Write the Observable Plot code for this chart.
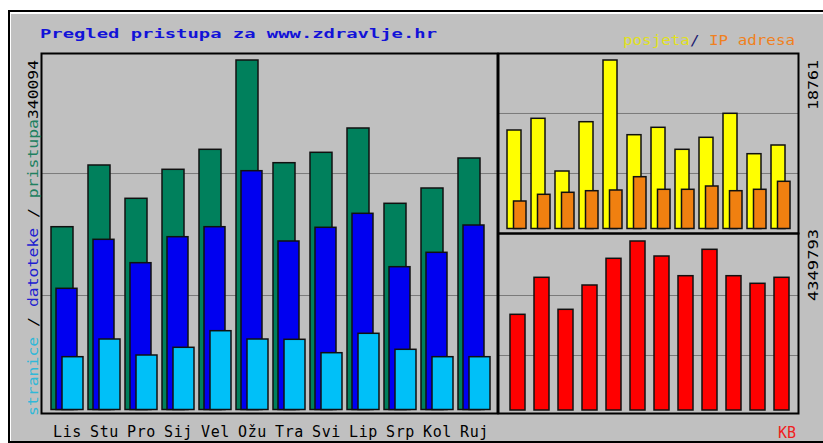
<!DOCTYPE html>
<html><head><meta charset="utf-8">
<script src="https://cdn.jsdelivr.net/npm/d3@7"></script>
<script src="https://cdn.jsdelivr.net/npm/@observablehq/plot@0.6"></script>
<style>
html,body{margin:0;padding:0;background:#fff;}
#wrap{position:relative;width:823px;height:443px;overflow:hidden;background:#fff;}
#box{position:absolute;left:8px;top:10px;width:830px;height:429px;background:#c0c0c0;border-left:2px solid #000;border-top:2px solid #000;border-bottom:2px solid #000;box-shadow:inset 1px 2px 0 #fff;}
.panel{position:absolute;}
.panel svg{display:block;}
#overlay{position:absolute;left:0;top:0;}
</style></head><body><div id="wrap"><div id="box"></div></div>
<script>
// ---- data ----
const months   = ["Lis","Stu","Pro","Sij","Vel","Ožu","Tra","Svi","Lip","Srp","Kol","Ruj"];
const pristupa = [177880,237920,205520,233740,253200,340094,240160,250280,273930,200650,215540,244730];
const datoteke = [117940,165620,142850,168150,177880,232380,163970,177300,190920,138960,152970,179530];
const stranice = [51380,68600,53030,60530,76680,68600,68310,55270,74150,58580,51380,51380];
const posjeta  = [10967,12270,6402,11891,18761,10444,11268,8818,10154,12826,8328,9297];
const ipAdresa = [3062,3808,4031,4209,4287,5767,4365,4365,4732,4209,4365,5255];
const kb       = [2463000,3415500,2591900,3217300,3904500,4349793,3963700,3456700,4136200,3456700,3261100,3415500];
const maxLeft = 340094, maxVisits = 18761, maxKB = 4349793;
const gridLeft = [111400, 230100];
const gridVisits = [6180, 12860];
const gridKB = [1415600, 2959900];
const titleText = "Pregled pristupa za www.zdravlje.hr";

const rows = months.map((m, i) => ({m, hits: pristupa[i], files: datoteke[i], pages: stranice[i],
  visits: posjeta[i], sites: ipAdresa[i], kbytes: kb[i]}));

const wrap = document.getElementById("wrap");
const baseStyle = {background: "transparent", overflow: "visible", fontFamily: "DejaVu Sans Mono",
  fontSize: "15px", letterSpacing: "0.6px", color: "#000"};
const edge = "#101010";

function place(el, left, top) {
  const d = document.createElement("div");
  d.className = "panel"; d.style.left = left + "px"; d.style.top = top + "px";
  d.appendChild(el); wrap.appendChild(d);
}

// left panel: hits / files / pages
place(Plot.plot({
  width: 462, height: 396, marginTop: 3, marginLeft: 3, marginRight: 3, marginBottom: 33,
  style: baseStyle,
  x: {type: "band", domain: months, range: [12, 452], paddingInner: 0.137, paddingOuter: 0,
      tickSize: 0, tickPadding: 13, label: null},
  y: {domain: [0, maxLeft], range: [359.5, 10], axis: null},
  marks: [
    Plot.ruleY(gridLeft, {stroke: "#7a7a7a", strokeWidth: 1}),
    Plot.barY(rows, {x: "m", y: "hits", fill: "#00805c", stroke: edge, strokeWidth: 1.5, insetRight: 10}),
    Plot.barY(rows, {x: "m", y: "files", fill: "#0000f0", stroke: edge, strokeWidth: 1.5, insetLeft: 5, insetRight: 6}),
    Plot.barY(rows, {x: "m", y: "pages", fill: "#00c0f8", stroke: edge, strokeWidth: 1.5, insetLeft: 11}),
    Plot.frame({stroke: "#000", strokeWidth: 2})
  ]
}), 38, 50);

// upper right: visits / sites
place(Plot.plot({
  width: 306, height: 186, marginTop: 3, marginLeft: 3, marginRight: 3, marginBottom: 3,
  style: baseStyle,
  x: {type: "band", domain: months, range: [11.7, 295.8], paddingInner: 0.21, paddingOuter: 0, axis: null},
  y: {domain: [0, maxVisits], range: [178.5, 10], axis: null},
  marks: [
    Plot.ruleY(gridVisits, {stroke: "#7a7a7a", strokeWidth: 1}),
    Plot.barY(rows, {x: "m", y: "visits", fill: "#ffff00", stroke: edge, strokeWidth: 1.5, insetRight: 5}),
    Plot.barY(rows, {x: "m", y: "sites", fill: "#f08010", stroke: edge, strokeWidth: 1.5, insetLeft: 6.5}),
    Plot.frame({stroke: "#000", strokeWidth: 2})
  ]
}), 495, 50);

// lower right: KB
place(Plot.plot({
  width: 306, height: 186, marginTop: 3, marginLeft: 3, marginRight: 3, marginBottom: 3,
  style: baseStyle,
  x: {type: "band", domain: months, range: [14, 294.6], paddingInner: 0.357, paddingOuter: 0, axis: null},
  y: {domain: [0, maxKB], range: [180, 11], axis: null},
  marks: [
    Plot.ruleY(gridKB, {stroke: "#7a7a7a", strokeWidth: 1}),
    Plot.barY(rows, {x: "m", y: "kbytes", fill: "#ff0000", stroke: edge, strokeWidth: 1.5}),
    Plot.frame({stroke: "#000", strokeWidth: 2})
  ]
}), 495, 230);

// text overlay
const svg = d3.create("svg").attr("id", "overlay").attr("width", 823).attr("height", 443)
  .style("font-family", "DejaVu Sans Mono").style("pointer-events", "none");

svg.append("text").attr("x", 40).attr("y", 38).attr("font-size", 13).attr("font-weight", "bold")
  .attr("fill", "#1212d8").attr("textLength", 397).attr("lengthAdjust", "spacingAndGlyphs").text(titleText);

const leg = svg.append("text").attr("x", 623).attr("y", 45).attr("font-size", 14)
  .attr("textLength", 172).attr("lengthAdjust", "spacingAndGlyphs");
leg.append("tspan").attr("fill", "#e0e020").text("posjeta");
leg.append("tspan").attr("fill", "#1a1a70").text("/ ");
leg.append("tspan").attr("fill", "#f08020").text("IP adresa");

const lab = svg.append("text").attr("transform", "translate(38,416) rotate(-90)").attr("font-size", 14)
  .attr("textLength", 297).attr("lengthAdjust", "spacingAndGlyphs");
lab.append("tspan").attr("fill", "#30b8d8").text("stranice");
lab.append("tspan").attr("fill", "#000").text(" / ");
lab.append("tspan").attr("fill", "#2020d0").text("datoteke");
lab.append("tspan").attr("fill", "#000").text(" / ");
lab.append("tspan").attr("fill", "#208060").text("pristupa");

svg.append("text").attr("transform", "translate(38,60) rotate(-90)").attr("font-size", 14)
  .attr("text-anchor", "end").attr("fill", "#000").attr("textLength", 59)
  .attr("lengthAdjust", "spacingAndGlyphs").text(String(maxLeft));

svg.append("text").attr("transform", "translate(818,60) rotate(-90)").attr("font-size", 14)
  .attr("text-anchor", "end").attr("fill", "#000").attr("textLength", 50)
  .attr("lengthAdjust", "spacingAndGlyphs").text(String(maxVisits));

svg.append("text").attr("transform", "translate(818,229) rotate(-90)").attr("font-size", 14)
  .attr("text-anchor", "end").attr("fill", "#000").attr("textLength", 72)
  .attr("lengthAdjust", "spacingAndGlyphs").text(String(maxKB));

svg.append("text").attr("x", 796).attr("y", 438).attr("font-size", 15).attr("text-anchor", "end")
  .attr("fill", "#f02020").text("KB");

wrap.appendChild(svg.node());
</script>
</body></html>
